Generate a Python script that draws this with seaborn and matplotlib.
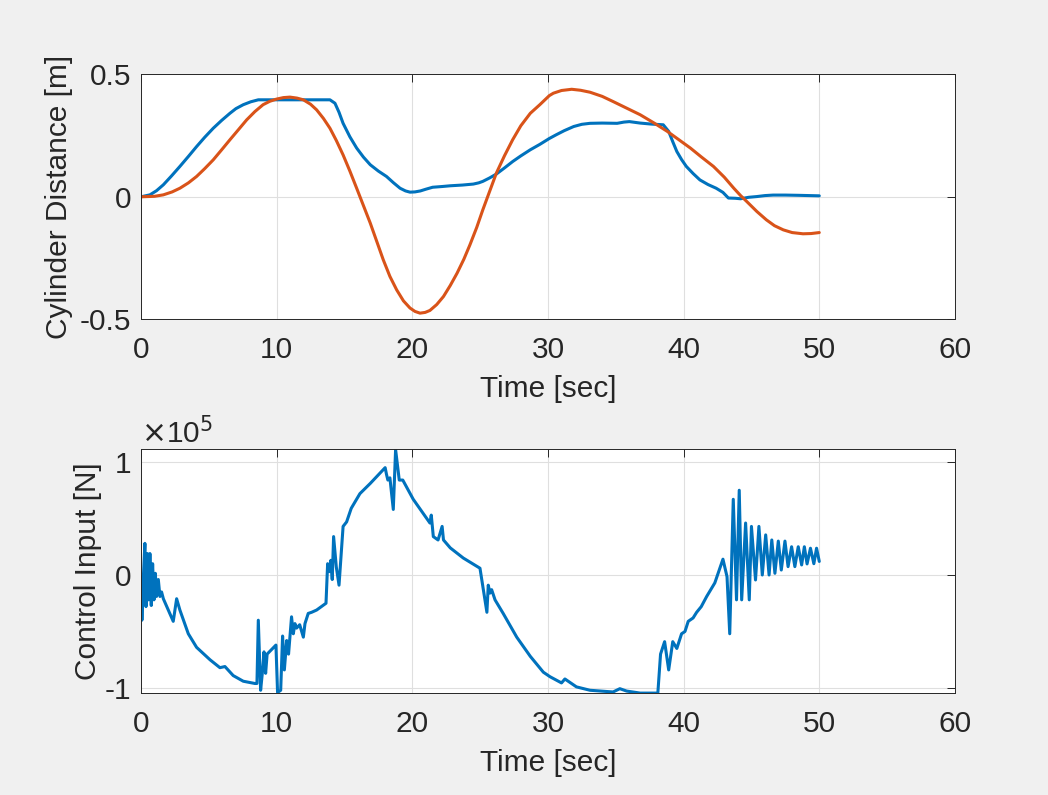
"""Cylinder distance and control input traces, MATLAB-style look."""

import matplotlib
matplotlib.use("Agg")
import matplotlib.pyplot as plt
import numpy as np
import pandas as pd
import seaborn as sns

# --- top panel: cylinder distance [m] ---
t_blue = [0, 0.66, 1.15, 1.65, 2.25, 2.87, 3.5, 4.1, 4.7, 5.33, 5.95, 6.56, 7.0, 7.54,
          8.1, 8.65, 13.93, 14.3, 14.6, 14.9, 15.4, 15.9, 16.4, 16.9, 17.5, 18.1, 18.6,
          19.1, 19.5, 19.83, 20.2, 20.6, 21.0, 21.5, 22.2, 22.8, 23.7, 24.5, 24.9, 25.2,
          25.7, 26.2, 26.8, 27.4, 28.0, 28.7, 29.4, 30.1, 30.6, 31.2, 31.9, 32.5, 33.1,
          34.0, 35.1, 35.6, 36.0, 36.8, 37.6, 38.5, 38.9, 39.2, 39.5, 39.85, 40.2, 40.7,
          41.2, 41.8, 42.4, 42.9, 43.3, 43.8, 44.2, 44.8, 45.4, 46.0, 46.6, 47.5, 48.5, 50]
d_blue = [0, 0.008, 0.025, 0.049, 0.085, 0.124, 0.165, 0.205, 0.243, 0.28, 0.312, 0.341,
          0.36, 0.376, 0.388, 0.396, 0.396, 0.382, 0.345, 0.30, 0.245, 0.199, 0.162, 0.131,
          0.105, 0.083, 0.058, 0.035, 0.024, 0.019, 0.02, 0.024, 0.031, 0.039, 0.042, 0.045,
          0.048, 0.052, 0.057, 0.063, 0.077, 0.093, 0.118, 0.144, 0.167, 0.192, 0.214,
          0.238, 0.253, 0.27, 0.287, 0.296, 0.30, 0.301, 0.30, 0.305, 0.307, 0.301, 0.297,
          0.294, 0.267, 0.225, 0.185, 0.152, 0.124, 0.095, 0.069, 0.05, 0.035, 0.018,
          -0.005, -0.006, -0.008, -0.002, 0.001, 0.005, 0.007, 0.007, 0.006, 0.004]

t_orange = [0, 1.0, 1.65, 2.3, 2.87, 3.5, 4.1, 4.7, 5.33, 5.95, 6.56, 7.2, 7.79, 8.4, 9.0,
            9.5, 10, 10.5, 10.98, 11.5, 11.97, 12.5, 12.95, 13.45, 13.93, 14.4, 14.9, 15.4,
            15.9, 16.4, 16.9, 17.4, 17.86, 18.35, 18.85, 19.35, 19.83, 20.2, 20.57, 20.95,
            21.3, 21.8, 22.3, 22.8, 23.3, 23.8, 24.25, 24.75, 25.2, 25.7, 26.2, 26.8, 27.4,
            28.0, 28.7, 29.4, 30.1, 30.4, 31.0, 31.75, 32.4, 33.1, 34.0, 34.8, 35.8, 36.8,
            37.8, 38.8, 39.6, 40.5, 41.3, 42.2, 43.0, 43.7, 44.2, 44.65, 45.4, 46.1, 46.7,
            47.35, 48.0, 48.8, 49.4, 50]
d_orange = [0, 0.002, 0.008, 0.02, 0.035, 0.057, 0.083, 0.115, 0.151, 0.192, 0.233, 0.275,
            0.314, 0.348, 0.376, 0.390, 0.399, 0.405, 0.407, 0.403, 0.396, 0.378, 0.355,
            0.32, 0.28, 0.23, 0.171, 0.105, 0.035, -0.036, -0.107, -0.185, -0.257, -0.325,
            -0.38, -0.425, -0.454, -0.468, -0.475, -0.472, -0.464, -0.44, -0.407, -0.362,
            -0.312, -0.255, -0.196, -0.125, -0.053, 0.022, 0.097, 0.168, 0.233, 0.29,
            0.341, 0.376, 0.413, 0.423, 0.434, 0.439, 0.435, 0.427, 0.41, 0.389, 0.362,
            0.335, 0.302, 0.267, 0.235, 0.199, 0.163, 0.124, 0.08, 0.035, 0.005, -0.019,
            -0.06, -0.094, -0.118, -0.135, -0.146, -0.151, -0.150, -0.146]

# --- bottom panel: control input, in units of 1e5 N ---
t_ctrl = [0, 0.07, 0.17, 0.29, 0.37, 0.47, 0.57, 0.66, 0.76, 0.86, 0.96, 1.06, 1.15, 1.28,
          1.4, 1.52, 1.65, 2.38, 2.63, 2.87, 3.49, 4.1, 5.09, 5.82, 6.19, 6.8, 7.54, 8.4,
          8.55, 8.65, 8.82, 8.97, 9.07, 9.19, 9.3, 9.95, 10.07, 10.3, 10.44, 10.57, 10.74,
          10.88, 11.1, 11.23, 11.35, 11.47, 11.7, 11.97, 12.09, 12.33, 12.58, 12.95, 13.64,
          13.76, 13.88, 14.0, 14.1, 14.2, 14.4, 14.6, 14.9, 15.16, 15.5, 16.14, 16.9, 18.0,
          18.1, 18.2, 18.35, 18.6, 18.77, 19.04, 19.3, 20.07, 21.3, 21.4, 21.55, 21.9, 22.2,
          22.3, 22.8, 23.76, 24.99, 25.2, 25.5, 25.6, 25.73, 25.85, 26.1, 26.7, 27.7, 28.7,
          29.66, 30.15, 31.0, 31.25, 32.1, 33.1, 34.8, 35.3, 35.8, 36.8, 38.1, 38.3, 38.6,
          38.9, 39.2, 39.5, 39.85, 40.1, 40.34, 40.7, 40.96, 41.3, 41.7, 42.3, 42.9, 43.2,
          43.4, 43.66, 43.9, 44.1, 44.28, 44.57, 44.84, 45.0, 45.3, 45.55, 45.8, 46.05,
          46.3, 46.5, 46.73, 46.98, 47.2, 47.47, 47.7, 47.96, 48.2, 48.45, 48.7, 48.9,
          49.1, 49.35, 49.6, 49.8, 50.0]
u_ctrl = [-0.015, -0.40, -0.04, 0.28, -0.28, 0.19, -0.22, 0.19, -0.27, 0.10, -0.22, 0.015,
          -0.19, -0.04, -0.19, -0.15, -0.21, -0.41, -0.21, -0.31, -0.52, -0.64, -0.75,
          -0.82, -0.81, -0.89, -0.94, -0.96, -0.96, -0.40, -1.02, -0.84, -0.68, -0.87,
          -0.70, -0.62, -1.04, -1.02, -0.54, -0.84, -0.58, -0.70, -0.37, -0.52, -0.43,
          -0.47, -0.44, -0.55, -0.43, -0.34, -0.33, -0.31, -0.25, 0.10, 0.03, 0.13, -0.04,
          0.34, 0.07, -0.09, 0.43, 0.47, 0.59, 0.72, 0.81, 0.95, 0.89, 0.84, 0.86, 0.58,
          1.11, 0.84, 0.84, 0.67, 0.46, 0.53, 0.34, 0.31, 0.43, 0.31, 0.24, 0.15, 0.06,
          -0.10, -0.33, -0.09, -0.16, -0.13, -0.22, -0.34, -0.55, -0.72, -0.86, -0.90,
          -0.955, -0.92, -0.99, -1.02, -1.035, -1.006, -1.027, -1.045, -1.045, -0.70,
          -0.59, -0.84, -0.59, -0.65, -0.52, -0.50, -0.41, -0.38, -0.33, -0.28, -0.19,
          -0.07, 0.14, -0.015, -0.52, 0.67, -0.22, 0.75, -0.22, 0.46, -0.22, 0.43, -0.044,
          0.43, 0.0, 0.355, 0.0, 0.31, 0.015, 0.30, 0.044, 0.30, 0.074, 0.25, 0.074, 0.25,
          0.089, 0.25, 0.098, 0.237, 0.10, 0.237, 0.12]

BLUE = "#0072BD"
ORANGE = "#D95319"
INK = "#262626"
BG = "#F0F0F0"
FS = 21.5

sns.set_style("white")
plt.rcParams["font.family"] = ["Liberation Sans", "DejaVu Sans"]
plt.rcParams["axes.unicode_minus"] = False

top = pd.concat([
    pd.DataFrame({"t": t_blue, "d": d_blue, "s": "measured"}),
    pd.DataFrame({"t": t_orange, "d": d_orange, "s": "reference"}),
])
bottom = pd.DataFrame({"t": t_ctrl, "u": np.array(u_ctrl) * 1e5})

fig = plt.figure(figsize=(10.48, 7.95), dpi=100, facecolor=BG)
ax1 = fig.add_axes([0.1345, 0.5984, 0.7767, 0.3081])
ax2 = fig.add_axes([0.1345, 0.1279, 0.7767, 0.3069])

sns.lineplot(data=top, x="t", y="d", hue="s", palette=[BLUE, ORANGE], estimator=None,
             sort=False, linewidth=2.2, legend=False, ax=ax1)
sns.lineplot(data=bottom, x="t", y="u", color=BLUE, estimator=None, sort=False,
             linewidth=2.2, ax=ax2)


def matlab_axes(ax):
    ax.set_facecolor("white")
    for sp in ax.spines.values():
        sp.set_color(INK)
        sp.set_linewidth(0.7)
    ax.grid(True, color="#DFDFDF", linewidth=0.8)
    ax.set_axisbelow(True)
    ax.tick_params(direction="in", length=6, width=0.7, color=INK, labelcolor=INK,
                   top=True, right=True, labelsize=FS)
    ax.tick_params(axis="x", pad=12)
    ax.tick_params(axis="y", pad=7)
    ax.set_xlim(0, 60)
    ax.set_xticks([0, 10, 20, 30, 40, 50, 60])
    ax.set_xlabel("Time [sec]", color=INK, fontsize=FS, labelpad=8)


matlab_axes(ax1)
ax1.set_ylim(-0.5, 0.5)
ax1.set_yticks([-0.5, 0, 0.5])
ax1.set_yticklabels(["-0.5", "0", "0.5"])
ax1.set_ylabel("Cylinder Distance [m]", color=INK, fontsize=FS, labelpad=5)

matlab_axes(ax2)
ax2.set_ylim(-1.047e5, 1.112e5)
ax2.set_yticks([-1e5, 0, 1e5])
ax2.set_yticklabels(["-1", "0", "1"])
ax2.set_ylabel("Control Input [N]", color=INK, fontsize=FS, labelpad=2)
ax2.text(0.0, 1.0, r"$\times$10$^5$", transform=ax2.transAxes, ha="left",
         va="bottom", fontsize=FS, color=INK)

fig.savefig("out.png", dpi=100, facecolor=BG)
